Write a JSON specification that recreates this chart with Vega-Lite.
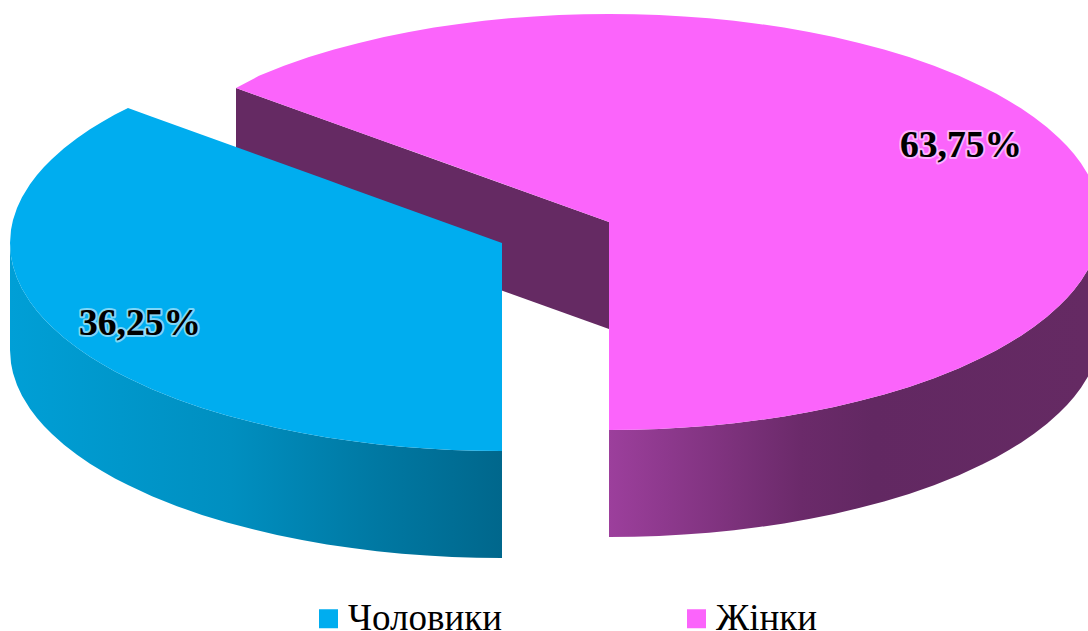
{
"$schema":"https://vega.github.io/schema/vega-lite/v6.json",
"width":1088,"height":631,"padding":0,"autosize":{"type":"none"},
"background":"white",
"view":{"stroke":null},
"config":{"view":{"stroke":null}},
"datasets":{
"shapes":[
{"part":"pink_inner","x":236,"y":88,"y2":195},
{"part":"pink_inner","x":609,"y":222,"y2":329},
{"part":"pink_side","x":609,"y":430,"y2":537},
{"part":"pink_side","x":634,"y":429.7,"y2":536.7},
{"part":"pink_side","x":659,"y":428.9,"y2":535.9},
{"part":"pink_side","x":684,"y":427.6,"y2":534.6},
{"part":"pink_side","x":709,"y":425.7,"y2":532.7},
{"part":"pink_side","x":734,"y":423.2,"y2":530.2},
{"part":"pink_side","x":759,"y":420.1,"y2":527.1},
{"part":"pink_side","x":784,"y":416.4,"y2":523.4},
{"part":"pink_side","x":809,"y":412,"y2":519},
{"part":"pink_side","x":834,"y":407,"y2":514},
{"part":"pink_side","x":859,"y":401.1,"y2":508.1},
{"part":"pink_side","x":884,"y":394.5,"y2":501.5},
{"part":"pink_side","x":909,"y":386.9,"y2":493.9},
{"part":"pink_side","x":934,"y":378.2,"y2":485.2},
{"part":"pink_side","x":959,"y":368.2,"y2":475.2},
{"part":"pink_side","x":982,"y":357.6,"y2":464.6},
{"part":"pink_side","x":996,"y":350.4,"y2":457.4},
{"part":"pink_side","x":1009,"y":343.1,"y2":450.1},
{"part":"pink_side","x":1021,"y":335.7,"y2":442.7},
{"part":"pink_side","x":1034,"y":326.8,"y2":433.8},
{"part":"pink_side","x":1047,"y":316.7,"y2":423.7},
{"part":"pink_side","x":1059,"y":306.1,"y2":413.1},
{"part":"pink_side","x":1067,"y":298,"y2":405},
{"part":"pink_side","x":1074,"y":290,"y2":397},
{"part":"pink_side","x":1081,"y":280.7,"y2":387.7},
{"part":"pink_side","x":1088,"y":269.5,"y2":376.5},
{"part":"blue_side","x":10,"y":243,"y2":350},
{"part":"blue_side","x":11,"y":256.3,"y2":363.3},
{"part":"blue_side","x":13,"y":265.9,"y2":372.9},
{"part":"blue_side","x":17,"y":278,"y2":385},
{"part":"blue_side","x":22,"y":288.7,"y2":395.7},
{"part":"blue_side","x":30,"y":301.7,"y2":408.7},
{"part":"blue_side","x":37,"y":311,"y2":418},
{"part":"blue_side","x":44,"y":319,"y2":426},
{"part":"blue_side","x":52,"y":327.1,"y2":434.1},
{"part":"blue_side","x":64,"y":337.7,"y2":444.7},
{"part":"blue_side","x":77,"y":347.8,"y2":454.8},
{"part":"blue_side","x":90,"y":356.7,"y2":463.7},
{"part":"blue_side","x":102,"y":364.1,"y2":471.1},
{"part":"blue_side","x":115,"y":371.4,"y2":478.4},
{"part":"blue_side","x":128,"y":378,"y2":485},
{"part":"blue_side","x":152,"y":389.2,"y2":496.2},
{"part":"blue_side","x":177,"y":399.2,"y2":506.2},
{"part":"blue_side","x":202,"y":407.9,"y2":514.9},
{"part":"blue_side","x":227,"y":415.5,"y2":522.5},
{"part":"blue_side","x":252,"y":422.1,"y2":529.1},
{"part":"blue_side","x":277,"y":428,"y2":535},
{"part":"blue_side","x":302,"y":433,"y2":540},
{"part":"blue_side","x":327,"y":437.4,"y2":544.4},
{"part":"blue_side","x":352,"y":441.1,"y2":548.1},
{"part":"blue_side","x":377,"y":444.2,"y2":551.2},
{"part":"blue_side","x":402,"y":446.7,"y2":553.7},
{"part":"blue_side","x":427,"y":448.6,"y2":555.6},
{"part":"blue_side","x":452,"y":449.9,"y2":556.9},
{"part":"blue_side","x":477,"y":450.7,"y2":557.7},
{"part":"blue_side","x":502,"y":451,"y2":558},
{"part":"top","series":"Чоловики","x":10,"y":243,"y2":243},
{"part":"top","series":"Чоловики","x":11,"y":229.7,"y2":256.3},
{"part":"top","series":"Чоловики","x":13,"y":220.1,"y2":265.9},
{"part":"top","series":"Чоловики","x":17,"y":208,"y2":278},
{"part":"top","series":"Чоловики","x":22,"y":197.3,"y2":288.7},
{"part":"top","series":"Чоловики","x":30,"y":184.3,"y2":301.7},
{"part":"top","series":"Чоловики","x":37,"y":175,"y2":311},
{"part":"top","series":"Чоловики","x":44,"y":167,"y2":319},
{"part":"top","series":"Чоловики","x":52,"y":158.9,"y2":327.1},
{"part":"top","series":"Чоловики","x":64,"y":148.3,"y2":337.7},
{"part":"top","series":"Чоловики","x":77,"y":138.2,"y2":347.8},
{"part":"top","series":"Чоловики","x":90,"y":129.3,"y2":356.7},
{"part":"top","series":"Чоловики","x":102,"y":121.9,"y2":364.1},
{"part":"top","series":"Чоловики","x":115,"y":114.6,"y2":371.4},
{"part":"top","series":"Чоловики","x":128,"y":108,"y2":378},
{"part":"top","series":"Чоловики","x":152,"y":116.7,"y2":389.2},
{"part":"top","series":"Чоловики","x":177,"y":125.7,"y2":399.2},
{"part":"top","series":"Чоловики","x":202,"y":134.7,"y2":407.9},
{"part":"top","series":"Чоловики","x":227,"y":143.7,"y2":415.5},
{"part":"top","series":"Чоловики","x":252,"y":152.8,"y2":422.1},
{"part":"top","series":"Чоловики","x":277,"y":161.8,"y2":428},
{"part":"top","series":"Чоловики","x":302,"y":170.8,"y2":433},
{"part":"top","series":"Чоловики","x":327,"y":179.8,"y2":437.4},
{"part":"top","series":"Чоловики","x":352,"y":188.9,"y2":441.1},
{"part":"top","series":"Чоловики","x":377,"y":197.9,"y2":444.2},
{"part":"top","series":"Чоловики","x":402,"y":206.9,"y2":446.7},
{"part":"top","series":"Чоловики","x":427,"y":215.9,"y2":448.6},
{"part":"top","series":"Чоловики","x":452,"y":225,"y2":449.9},
{"part":"top","series":"Чоловики","x":477,"y":234,"y2":450.7},
{"part":"top","series":"Чоловики","x":502,"y":243,"y2":451},
{"part":"top","series":"Жінки","x":236,"y":88,"y2":88},
{"part":"top","series":"Жінки","x":259,"y":75.8,"y2":96.3},
{"part":"top","series":"Жінки","x":284,"y":65.8,"y2":105.2},
{"part":"top","series":"Жінки","x":309,"y":57.1,"y2":114.2},
{"part":"top","series":"Жінки","x":334,"y":49.5,"y2":123.2},
{"part":"top","series":"Жінки","x":359,"y":42.9,"y2":132.2},
{"part":"top","series":"Жінки","x":384,"y":37,"y2":141.2},
{"part":"top","series":"Жінки","x":409,"y":32,"y2":150.1},
{"part":"top","series":"Жінки","x":434,"y":27.6,"y2":159.1},
{"part":"top","series":"Жінки","x":459,"y":23.9,"y2":168.1},
{"part":"top","series":"Жінки","x":484,"y":20.8,"y2":177.1},
{"part":"top","series":"Жінки","x":509,"y":18.3,"y2":186.1},
{"part":"top","series":"Жінки","x":534,"y":16.4,"y2":195},
{"part":"top","series":"Жінки","x":559,"y":15.1,"y2":204},
{"part":"top","series":"Жінки","x":584,"y":14.3,"y2":213},
{"part":"top","series":"Жінки","x":609,"y":14,"y2":222},
{"part":"top","series":"Жінки","x":609,"y":14,"y2":430},
{"part":"top","series":"Жінки","x":634,"y":14.3,"y2":429.7},
{"part":"top","series":"Жінки","x":659,"y":15.1,"y2":428.9},
{"part":"top","series":"Жінки","x":684,"y":16.4,"y2":427.6},
{"part":"top","series":"Жінки","x":709,"y":18.3,"y2":425.7},
{"part":"top","series":"Жінки","x":734,"y":20.8,"y2":423.2},
{"part":"top","series":"Жінки","x":759,"y":23.9,"y2":420.1},
{"part":"top","series":"Жінки","x":784,"y":27.6,"y2":416.4},
{"part":"top","series":"Жінки","x":809,"y":32,"y2":412},
{"part":"top","series":"Жінки","x":834,"y":37,"y2":407},
{"part":"top","series":"Жінки","x":859,"y":42.9,"y2":401.1},
{"part":"top","series":"Жінки","x":884,"y":49.5,"y2":394.5},
{"part":"top","series":"Жінки","x":909,"y":57.1,"y2":386.9},
{"part":"top","series":"Жінки","x":934,"y":65.8,"y2":378.2},
{"part":"top","series":"Жінки","x":959,"y":75.8,"y2":368.2},
{"part":"top","series":"Жінки","x":982,"y":86.4,"y2":357.6},
{"part":"top","series":"Жінки","x":996,"y":93.6,"y2":350.4},
{"part":"top","series":"Жінки","x":1009,"y":100.9,"y2":343.1},
{"part":"top","series":"Жінки","x":1021,"y":108.3,"y2":335.7},
{"part":"top","series":"Жінки","x":1034,"y":117.2,"y2":326.8},
{"part":"top","series":"Жінки","x":1047,"y":127.3,"y2":316.7},
{"part":"top","series":"Жінки","x":1059,"y":137.9,"y2":306.1},
{"part":"top","series":"Жінки","x":1067,"y":146,"y2":298},
{"part":"top","series":"Жінки","x":1074,"y":154,"y2":290},
{"part":"top","series":"Жінки","x":1081,"y":163.3,"y2":280.7},
{"part":"top","series":"Жінки","x":1088,"y":174.5,"y2":269.5}
],
"labels":[
{"x":961,"y":157,"label":"63,75%"},
{"x":140,"y":335,"label":"36,25%"}
]
},
"encoding":{
"x":{"field":"x","type":"quantitative","scale":{"domain":[0,1088],"nice":false,"zero":false},"axis":null},
"y":{"field":"y","type":"quantitative","scale":{"domain":[631,0],"nice":false,"zero":false},"axis":null,"stack":null}
},
"layer":[
{"data":{"name":"shapes"},"transform":[{"filter":"datum.part==='pink_inner'"}],
 "mark":{"type":"area","color":"#652a63","opacity":1},
 "encoding":{"y2":{"field":"y2"}}},
{"data":{"name":"shapes"},"transform":[{"filter":"datum.part==='pink_side'"}],
 "mark":{"type":"area","opacity":1,"color":{"gradient":"linear","x1":0,"y1":0,"x2":1,"y2":0,"stops":[{"offset":0,"color":"#9c3f9c"},{"offset":0.4,"color":"#6b2a6a"},{"offset":0.55,"color":"#622862"},{"offset":1,"color":"#652a63"}]}},
 "encoding":{"y2":{"field":"y2"}}},
{"data":{"name":"shapes"},"transform":[{"filter":"datum.part==='blue_side'"}],
 "mark":{"type":"area","opacity":1,"color":{"gradient":"linear","x1":0,"y1":0,"x2":1,"y2":0,"stops":[{"offset":0,"color":"#009fd6"},{"offset":0.45,"color":"#008fc0"},{"offset":0.75,"color":"#0078a2"},{"offset":1,"color":"#00678c"}]}},
 "encoding":{"y2":{"field":"y2"}}},
{"data":{"name":"shapes"},"transform":[{"filter":"datum.part==='top'"}],
 "mark":{"type":"area","opacity":1},
 "encoding":{"y2":{"field":"y2"},
  "color":{"field":"series","type":"nominal","sort":null,"scale":{"domain":["Чоловики","Жінки"],"range":["#00adef","#fb64fb"]},
   "legend":{"title":null,"orient":"none","legendX":310,"legendY":600,"direction":"horizontal","columns":2,"columnPadding":175,"symbolType":"square","symbolSize":361,"symbolStrokeWidth":0,"labelFont":"Liberation Serif","labelFontSize":37,"labelColor":"#000000","labelOffset":1,"labelLimit":0,"padding":0}}}},
{"data":{"name":"labels"},
 "mark":{"type":"text","font":"Liberation Serif","fontWeight":"bold","fontSize":37.5,"align":"center","baseline":"alphabetic","stroke":"#ffffff","strokeWidth":4,"strokeOpacity":0.5,"strokeJoin":"round","fill":"#000000"},
 "encoding":{"text":{"field":"label"}}},
{"data":{"name":"labels"},
 "mark":{"type":"text","font":"Liberation Serif","fontWeight":"bold","fontSize":37.5,"align":"center","baseline":"alphabetic","fill":"#000000"},
 "encoding":{"text":{"field":"label"}}}
]
}
